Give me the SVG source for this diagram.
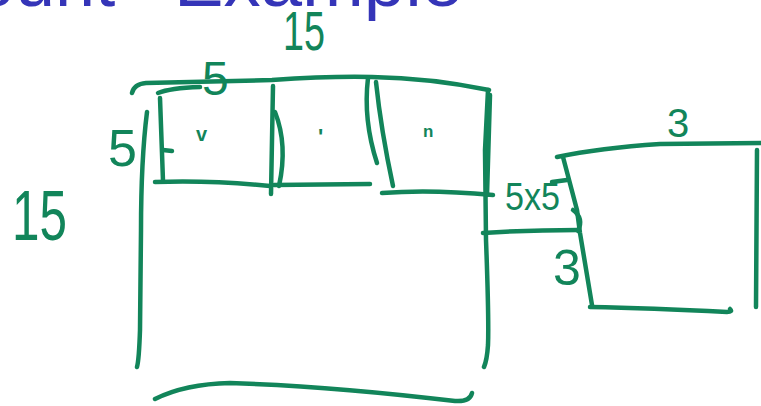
<svg xmlns="http://www.w3.org/2000/svg" width="761" height="406" viewBox="0 0 761 406">
<style>
.ink{fill:none;stroke:#12855a;stroke-width:4.5;stroke-linecap:round;stroke-linejoin:round}
.hand{fill:#12855a;font-family:"Liberation Sans",Arial,sans-serif}
.mark{fill:#12855a;font-family:"Liberation Sans",Arial,sans-serif;font-weight:bold}
.title{fill:#3535b8;font-family:"Liberation Sans",Arial,sans-serif;font-size:72px}
</style>
<rect width="761" height="406" fill="#ffffff"/>
<text class="title" y="6"><tspan x="-25">ount</tspan><tspan x="174" textLength="289" lengthAdjust="spacingAndGlyphs">Example</tspan></text>

<g id="big-box">
<path class="ink" d="M132,93 Q134,84 146,83 L272,80 Q330,76 372,77 Q430,78 489,90"/>
<path class="ink" d="M147,112 Q141,160 141,230 L140,330 Q139,360 137,367"/>
<path class="ink" d="M488,90 L485,150 L486,240 Q489,320 488,345 Q487,360 484,367"/>
<path class="ink" d="M155,399 Q185,384 230,383 Q330,386 455,401 Q470,402 472,393"/>
</g>

<g id="cell-1">
<path class="ink" d="M158,93 Q170,88 200,87"/>
<path class="ink" d="M160,98 L163,181"/>
<path class="ink" d="M163,150 L172,151"/>
<path class="ink" d="M155,182 Q210,180 270,186"/>
<path class="ink" d="M273,86 L271,194"/>
<path class="ink" d="M275,112 Q288,145 279,186"/>
<text class="mark" x="196" y="141" font-size="20">v</text>
</g>

<g id="cell-2">
<path class="ink" d="M274,185 L370,184"/>
<path class="ink" d="M368,78 Q363,120 377,163"/>
<path class="ink" d="M376,82 Q381,130 393,186"/>
<text class="mark" x="318" y="144" font-size="22">'</text>
</g>

<g id="cell-3">
<path class="ink" d="M382,193 Q430,189 493,195"/>
<path class="ink" d="M490,95 L487,195"/>
<text class="mark" x="423" y="137" font-size="17">n</text>
</g>

<g id="small-box">
<path class="ink" d="M557,157 Q600,148 660,144 L761,143"/>
<path class="ink" d="M563,157 L577,210 L580,233 L592,305"/>
<path class="ink" d="M552,182 L567,180"/>
<path class="ink" d="M573,210 Q584,218 578,231"/>
<path class="ink" d="M590,307 Q650,308 727,312 Q733,312 730,309"/>
<path class="ink" d="M757,150 L756,307"/>
</g>

<g id="connectors">
<path class="ink" d="M483,233 Q530,230 578,230"/>
</g>

<g id="labels">
<text class="hand" x="283" y="50" font-size="56" textLength="42" lengthAdjust="spacingAndGlyphs">15</text>
<text class="hand" x="202" y="95" font-size="48">5</text>
<text class="hand" x="108" y="166" font-size="52">5</text>
<text class="hand" x="12" y="240" font-size="70" textLength="55" lengthAdjust="spacingAndGlyphs">15</text>
<text class="hand" x="505" y="210" font-size="38" textLength="55" lengthAdjust="spacingAndGlyphs">5x5</text>
<text class="hand" x="553" y="285" font-size="50">3</text>
<text class="hand" x="667" y="137" font-size="40">3</text>
</g>
</svg>
